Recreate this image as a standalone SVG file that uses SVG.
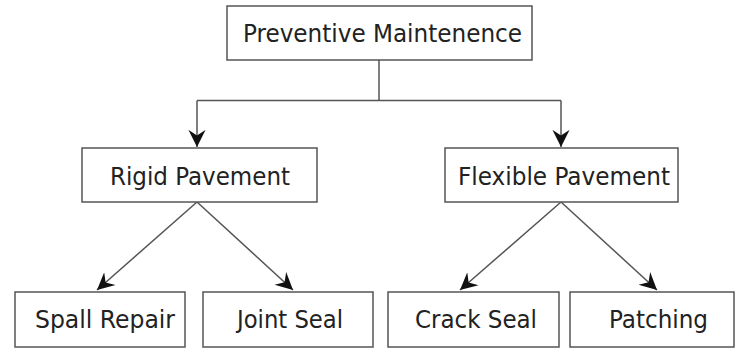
<svg xmlns="http://www.w3.org/2000/svg" width="735" height="348" viewBox="0 0 735 348">
<style>
.box{fill:#fff;stroke:#555;stroke-width:1.5}
.t{font-family:"DejaVu Sans Condensed","DejaVu Sans",sans-serif;font-size:25px;fill:#222}
.c{fill:none;stroke:#555;stroke-width:1.5}
</style>
<defs>
<marker id="ah" markerUnits="userSpaceOnUse" markerWidth="20" markerHeight="20" viewBox="-12 -7 14 14" refX="0" refY="0" orient="auto">
<path d="M0,0 L-12,-6 L-8,0 L-12,6 Z" fill="#111"/>
</marker>
</defs>
<rect width="735" height="348" fill="#fff"/>
<g id="connectors">
<path class="c" d="M379,60 V100.5"/>
<path class="c" d="M197,100.5 H561"/>
<path class="c" d="M197,100.5 V147" marker-end="url(#ah)"/>
<path class="c" d="M561,100.5 V147" marker-end="url(#ah)"/>
<path class="c" d="M197,202 L97,290" marker-end="url(#ah)"/>
<path class="c" d="M197,202 L293,290" marker-end="url(#ah)"/>
<path class="c" d="M561,202 L460,290" marker-end="url(#ah)"/>
<path class="c" d="M561,202 L657,290" marker-end="url(#ah)"/>
</g>
<g id="preventive"><rect class="box" x="227" y="6" width="305" height="54"/><text class="t" x="243" y="42" textLength="279" lengthAdjust="spacingAndGlyphs">Preventive Maintenence</text></g>
<g id="rigid"><rect class="box" x="82" y="148" width="235" height="54"/><text class="t" x="110" y="185" textLength="180" lengthAdjust="spacingAndGlyphs">Rigid Pavement</text></g>
<g id="flexible"><rect class="box" x="445" y="148" width="233" height="54"/><text class="t" x="458" y="185" textLength="212" lengthAdjust="spacingAndGlyphs">Flexible Pavement</text></g>
<g id="spall"><rect class="box" x="15" y="292" width="170" height="55"/><text class="t" x="35" y="328" textLength="140" lengthAdjust="spacingAndGlyphs">Spall Repair</text></g>
<g id="joint"><rect class="box" x="203" y="292" width="170" height="55"/><text class="t" x="237" y="328" textLength="106" lengthAdjust="spacingAndGlyphs">Joint Seal</text></g>
<g id="crack"><rect class="box" x="388" y="292" width="171" height="55"/><text class="t" x="415" y="328" textLength="122" lengthAdjust="spacingAndGlyphs">Crack Seal</text></g>
<g id="patching"><rect class="box" x="570" y="292" width="164" height="55"/><text class="t" x="609" y="328" textLength="99" lengthAdjust="spacingAndGlyphs">Patching</text></g>
</svg>
